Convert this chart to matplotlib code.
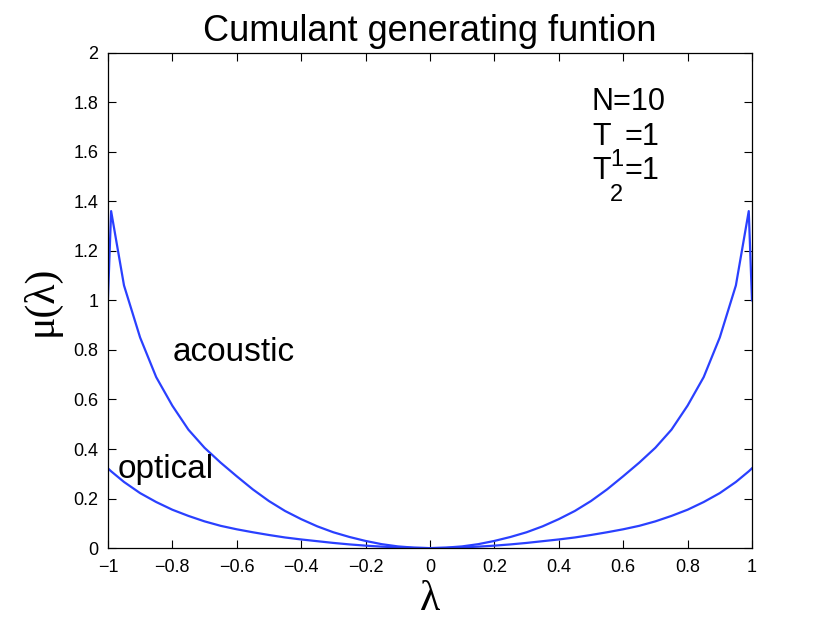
import numpy as np
import matplotlib; matplotlib.use("Agg"); import matplotlib.pyplot as plt
from matplotlib.ticker import FuncFormatter

plt.rcParams["font.family"] = ["Liberation Sans", "DejaVu Sans"]

# values
lam = [-1.0, -0.99, -0.95, -0.9, -0.85, -0.8, -0.75, -0.7, -0.65, -0.6, -0.55, -0.5, -0.45, -0.4,
       -0.35, -0.3, -0.25, -0.2, -0.15, -0.1, -0.05, 0.0,
       0.05, 0.1, 0.15, 0.2, 0.25, 0.3, 0.35, 0.4, 0.45, 0.5, 0.55, 0.6, 0.65, 0.7, 0.75, 0.8,
       0.85, 0.9, 0.95, 0.99, 1.0]
acoustic = [1.00, 1.36, 1.06, 0.85, 0.69, 0.575, 0.478, 0.405, 0.345, 0.29, 0.237, 0.19, 0.15, 0.117,
            0.088, 0.064, 0.045, 0.029, 0.016, 0.007, 0.002, 0.0,
            0.002, 0.007, 0.016, 0.029, 0.045, 0.064, 0.088, 0.117, 0.15, 0.19, 0.237, 0.29, 0.345, 0.405, 0.478, 0.575,
            0.69, 0.85, 1.06, 1.36, 1.00]
optical = [0.322, 0.31, 0.267, 0.222, 0.186, 0.155, 0.13, 0.108, 0.09, 0.076, 0.064, 0.053, 0.043, 0.035,
           0.028, 0.021, 0.015, 0.010, 0.006, 0.003, 0.001, 0.0,
           0.001, 0.003, 0.006, 0.010, 0.015, 0.021, 0.028, 0.035, 0.043, 0.053, 0.064, 0.076, 0.09, 0.108, 0.13, 0.155,
           0.186, 0.222, 0.267, 0.31, 0.322]
xticks = [-1, -0.8, -0.6, -0.4, -0.2, 0, 0.2, 0.4, 0.6, 0.8, 1]
yticks = [0, 0.2, 0.4, 0.6, 0.8, 1, 1.2, 1.4, 1.6, 1.8, 2]

def fmt(v, pos):
    s = "%g" % round(v, 2)
    return "0" if s in ("0", "-0") else s.replace("-", "\u2212")

fig = plt.figure(figsize=(8.3, 6.25), dpi=100)
ax = fig.add_axes([0.130, 0.123, 0.776, 0.793])
blue = "#2a40ff"
ax.plot(lam, acoustic, color=blue, lw=1.6)
ax.plot(lam, optical, color=blue, lw=1.6)

ax.set_xlim(-1, 1); ax.set_ylim(0, 2)
ax.set_xticks(xticks); ax.set_yticks(yticks)
ax.xaxis.set_major_formatter(FuncFormatter(fmt))
ax.yaxis.set_major_formatter(FuncFormatter(fmt))
ax.tick_params(direction="in", top=True, right=True, length=6, width=0.8, labelsize=13)
ax.tick_params(axis="x", pad=8)
ax.tick_params(axis="y", pad=7)
for s in ax.spines.values(): s.set_linewidth(0.9)

ax.set_title("Cumulant generating funtion", fontsize=26, pad=8)
ax.set_xlabel("λ", fontsize=30, labelpad=3, family="Liberation Serif")
ax.set_ylabel("μ(λ)", fontsize=30, labelpad=9, family="Liberation Serif")

ax.text(-0.80, 0.79, "acoustic", fontsize=24, va="center", ha="left")
ax.text(-0.97, 0.316, "optical", fontsize=24, va="center", ha="left")

# N / T1 / T2 block, subscripts set low as in the reference
fs = 22
ax.text(0.503, 1.80, "N=10", fontsize=fs, va="center", ha="left")
ax.text(0.503, 1.66, "T", fontsize=fs, va="center", ha="left")
ax.text(0.560, 1.565, "1", fontsize=17, va="center", ha="left")
ax.text(0.605, 1.66, "=1", fontsize=fs, va="center", ha="left")
ax.text(0.503, 1.52, "T", fontsize=fs, va="center", ha="left")
ax.text(0.560, 1.425, "2", fontsize=17, va="center", ha="left")
ax.text(0.605, 1.52, "=1", fontsize=fs, va="center", ha="left")

fig.savefig("out.png", dpi=100)
